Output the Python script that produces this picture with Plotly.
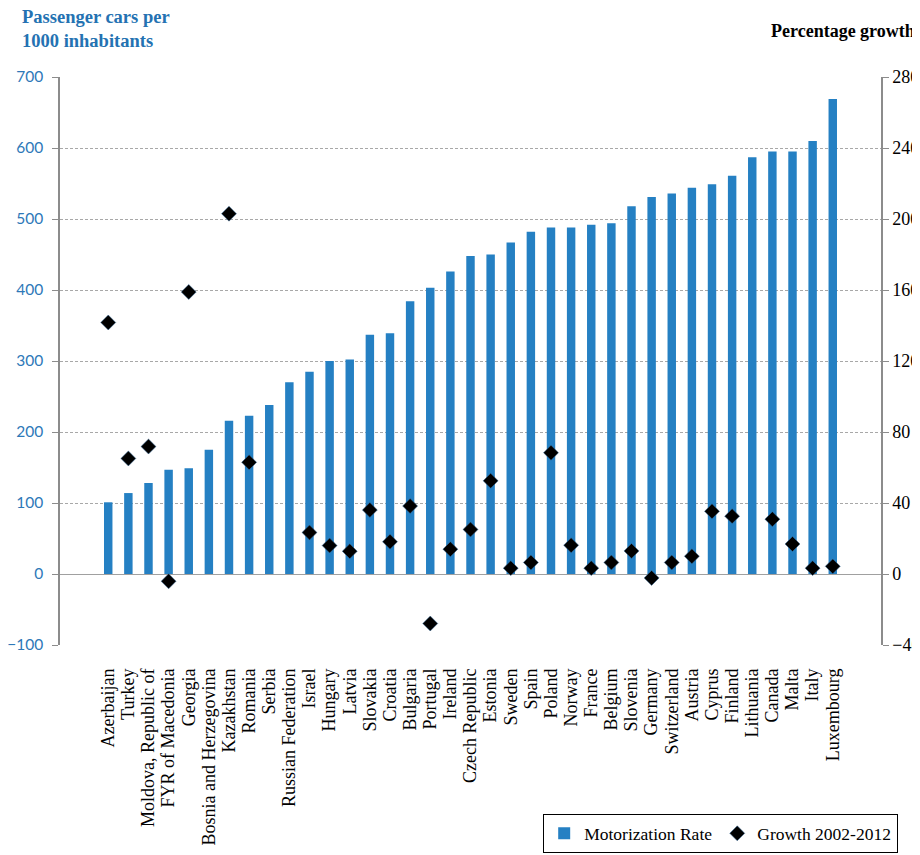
import plotly.graph_objects as go

countries = ["Azerbaijan", "Turkey", "Moldova, Republic of", "FYR of Macedonia", "Georgia",
             "Bosnia and Herzegovina", "Kazakhstan", "Romania", "Serbia", "Russian Federation",
             "Israel", "Hungary", "Latvia", "Slovakia", "Croatia", "Bulgaria", "Portugal",
             "Ireland", "Czech Republic", "Estonia", "Sweden", "Spain", "Poland", "Norway",
             "France", "Belgium", "Slovenia", "Germany", "Switzerland", "Austria", "Cyprus",
             "Finland", "Lithuania", "Canada", "Malta", "Italy", "Luxembourg"]

motorization = [101, 114, 128, 147, 149, 175, 216, 223, 238, 270, 285, 300, 302, 337, 339,
                384, 403, 426, 448, 450, 467, 482, 488, 488, 492, 494, 518, 531, 536, 544,
                549, 561, 587, 595, 595, 610, 669]

growth = [141.7, 65.1, 71.8, -4.1, 158.9, None, 203.0, 62.9, None, None, 23.4, 16.0, 12.8,
          36.1, 18.2, 38.3, -27.9, 14.0, 25.1, 52.5, 3.3, 6.5, 68.3, 16.2, 3.3, 6.5, 13.0,
          -2.2, 6.5, 10.0, 35.3, 32.6, None, 30.9, 16.9, 3.3, 4.3]

left_ticks = [-100, 0, 100, 200, 300, 400, 500, 600, 700]
right_ticks = [-40, 0, 40, 80, 120, 160, 200, 240, 280]

BLUE = "#2580C3"
SERIF = "Liberation Serif"

fig = go.Figure()
fig.add_trace(go.Bar(
    x=countries, y=motorization, name="Motorization Rate",
    marker=dict(color=BLUE, line=dict(width=0)), width=0.42, yaxis="y"))
fig.add_trace(go.Scatter(
    x=countries, y=growth, name="Growth 2002-2012", mode="markers",
    marker=dict(symbol="diamond", size=11.5, color="black",
                line=dict(color="#3a6f9f", width=0.5)), yaxis="y2"))

fig.update_layout(
    width=912, height=847,
    margin=dict(l=52, r=39, t=69, b=210, autoexpand=False),
    plot_bgcolor="white", paper_bgcolor="white",
    showlegend=True,
    xaxis=dict(
        tickmode="array", tickvals=countries, ticktext=countries,
        tickangle=-90, tickfont=dict(family=SERIF, size=18, color="black"),
        ticklabelstandoff=19,
        showgrid=False, showline=False, ticks="", automargin=False,
    ),
    yaxis=dict(
        range=[-100, 700], tickvals=left_ticks,
        tickfont=dict(family="Lato", size=15.5, color="#2E78B8"),
        ticklabelstandoff=6,
        showgrid=True, gridcolor="#A8A8A8", griddash="3px,2px", gridwidth=1,
        zeroline=True, zerolinecolor="#A0A0A0", zerolinewidth=1.2,
        showline=True, linecolor="#8C8C8C", linewidth=1.5,
        ticks="outside", ticklen=6, tickcolor="#8C8C8C",
        automargin=False,
    ),
    yaxis2=dict(
        range=[-40, 280], tickvals=right_ticks, overlaying="y", side="right",
        tickfont=dict(family=SERIF, size=18, color="black"),
        showgrid=False, zeroline=False,
        showline=True, linecolor="#8C8C8C", linewidth=1.5,
        ticks="outside", ticklen=6, tickcolor="#8C8C8C",
        automargin=False,
    ),
    legend=dict(
        orientation="h", x=1.0207, xanchor="right", y=-0.298, yanchor="top",
        bordercolor="black", borderwidth=1.2,
        font=dict(family=SERIF, size=17.5, color="black"),
        itemwidth=30, entrywidthmode="pixels", tracegroupgap=0,
    ),
    annotations=[
        dict(text="<b>Passenger cars per<br>1000 inhabitants</b>", xref="paper", yref="paper",
             x=-0.049, y=1.0845, xanchor="left", yanchor="middle", align="left", showarrow=False,
             font=dict(family=SERIF, size=18.5, color="#2472B2")),
        dict(text="<b>Percentage growth</b>", xref="paper", yref="paper",
             x=0.863, y=1.0815, xanchor="left", yanchor="middle", showarrow=False,
             font=dict(family=SERIF, size=18, color="black")),
    ],
)

fig.write_html("out.html")
